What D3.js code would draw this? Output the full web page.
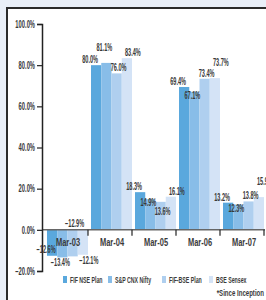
<!DOCTYPE html>
<html>
<head>
<meta charset="utf-8">
<script src="https://cdn.jsdelivr.net/npm/d3@7"></script>
<style>
	html, body { margin: 0; padding: 0; background: #e9eff8; }
	svg { display: block; }
	text { font-family: "Liberation Sans", Arial, sans-serif; font-weight: bold; fill: #3a3a3a; }
	.axis path, .axis line { stroke: #222; }
</style>
</head>
<body>
<svg id="graph"></svg>
<script>
var categories = ["Mar-03", "Mar-04", "Mar-05", "Mar-06", "Mar-07"];
var seriesNames = ["FIF NSE Plan", "S&P CNX Nifty", "FIF-BSE Plan", "BSE Sensex"];
var fifNse = [-12.6, 80.0, 18.3, 69.4, 13.2];
var cnxNifty = [-13.4, 81.1, 14.9, 67.1, 12.3];
var fifBse = [-12.9, 76.0, 13.6, 73.4, 13.8];
var bseSensex = [-12.1, 83.4, 16.1, 73.7, 15.9];
var yTicks = [-20, 0, 20, 40, 60, 80, 100];
var colors = ["#5aa8dd", "#88bde8", "#afcfef", "#d4e3f6"];
var footnote = "*Since Inception";

document.addEventListener("DOMContentLoaded", function(event) {
	var width = 266, height = 300,
		graph = d3.select("#graph").attr("width", width).attr("height", height);

	// condensed text: draw at origin, then squeeze horizontally
	var label = function(parent, x, y, str, size, k, anchor) {
		return parent.append("text")
			.attr("transform", "translate(" + x + "," + y + ") scale(" + k + ",1)")
			.attr("text-anchor", anchor || "start")
			.style("font-size", size + "px")
			.text(str);
	};

	// white panel with dark frame
	graph.append("rect")
		.attr("x", 7).attr("y", 8)
		.attr("width", 270).attr("height", 300)
		.attr("fill", "#fff")
		.attr("stroke", "#2b2b2b")
		.attr("stroke-width", 2);

	var series = [fifNse, cnxNifty, fifBse, bseSensex];

	//axes setup
	var x = d3.scaleBand().domain(categories).range([45, 265]).padding(0),
		x1 = d3.scaleBand().domain(d3.range(series.length)).range([2, x.bandwidth() - 1]).padding(0),
		y = d3.scaleLinear().domain([-20, 100]).range([271, 24]);

	var yAxis = d3.axisLeft(y).tickValues(yTicks).tickSize(5).tickPadding(1)
		.tickFormat(function(d) { return d3.format(".1f")(d) + "%"; });

	var bars = graph.append("g").attr("class", "bars");
	categories.forEach(function(c, ci) {
		series.forEach(function(s, si) {
			var v = s[ci];
			bars.append("rect")
				.attr("x", x(c) + x1(si))
				.attr("width", x1.bandwidth())
				.attr("y", y(Math.max(0, v)))
				.attr("height", Math.abs(y(v) - y(0)))
				.attr("fill", colors[si]);
		});
	});

	// x axis: baseline with ticks on category boundaries
	var xa = graph.append("g").attr("class", "xaxis");
	xa.append("line")
		.attr("x1", 42).attr("x2", 265)
		.attr("y1", y(0)).attr("y2", y(0))
		.attr("stroke", "#666").attr("stroke-width", 1.5);
	xa.selectAll("line.tick").data(categories).enter().append("line")
		.attr("class", "tick")
		.attr("x1", function(d) { return x(d) + x.bandwidth() - 1; })
		.attr("x2", function(d) { return x(d) + x.bandwidth() - 1; })
		.attr("y1", y(0)).attr("y2", y(0) + 6)
		.attr("stroke", "#222").attr("stroke-width", 1.2);
	categories.forEach(function(c) {
		label(xa, x(c) + x.bandwidth() / 2 + 1, y(0) + 16, c, 11, 0.68, "middle");
	});

	var tk = 0.58;
	graph.append("g")
		.attr("class", "axis yaxis")
		.attr("transform", "translate(42,0)")
		.call(yAxis)
		.call(function(g) {
			g.select(".domain").attr("stroke-width", 1.5);
			g.selectAll(".tick line").attr("stroke-width", 1.2);
			g.selectAll(".tick text")
				.attr("x", -7 / tk)
				.attr("transform", "scale(" + tk + ",1)")
				.style("font-size", "10px").attr("fill", "#3a3a3a");
		});

	// value labels, pushed apart so they do not collide
	var labels = graph.append("g").attr("class", "labels"),
		vk = 0.56, h = 8;
	categories.forEach(function(c, ci) {
		var placed = [];
		series.forEach(function(s, si) {
			var v = s[ci],
				prevV = si > 0 ? series[si - 1][ci] : null,
				prev = placed[placed.length - 1],
				cx = x(c) + x1(si) + x1.bandwidth() / 2 + (si - 1.5) * 4,
				str = d3.format(".1f")(v) + "%",
				t = label(labels, 0, 0, str, 10, vk, "middle"),
				w = t.node().getComputedTextLength() * vk;
			var free = function(b) {
				return !placed.some(function(p) {
					return Math.abs(p.x - cx) < (p.w + w) / 2 && b > p.b - h && b - h < p.b;
				});
			};
			var cands;
			if (v >= 0) {
				cands = [y(v) - 2];
				if (prev) cands.push(v > prevV ? Math.min(y(v) - 2, prev.b) - h - 2 : Math.max(y(v) - 2, prev.b) + h + 1);
			} else if (!prev) {
				cands = [y(v) - 3];
			} else if (v >= prevV) {
				cands = [y(0) - 3, y(v) + 9];
			} else {
				cands = [y(v) + 9, y(v) + 18];
			}
			var base = cands.filter(free)[0];
			if (base === undefined) base = cands[cands.length - 1];
			placed.push({x: cx, w: w, b: base});
			t.attr("transform", "translate(" + cx + "," + base + ") scale(" + vk + ",1)");
		});
	});

	// legend
	var legend = graph.append("g").attr("class", "legend"),
		lx = [63, 108, 162, 209];
	seriesNames.forEach(function(n, i) {
		legend.append("rect")
			.attr("x", lx[i]).attr("y", 276)
			.attr("width", 4).attr("height", 7)
			.attr("fill", colors[i]);
		label(legend, lx[i] + 7, 283, n, 9.5, 0.55);
	});
	label(graph, 264, 296, footnote, 9.5, 0.64, "end");
});
</script>
</body>
</html>
